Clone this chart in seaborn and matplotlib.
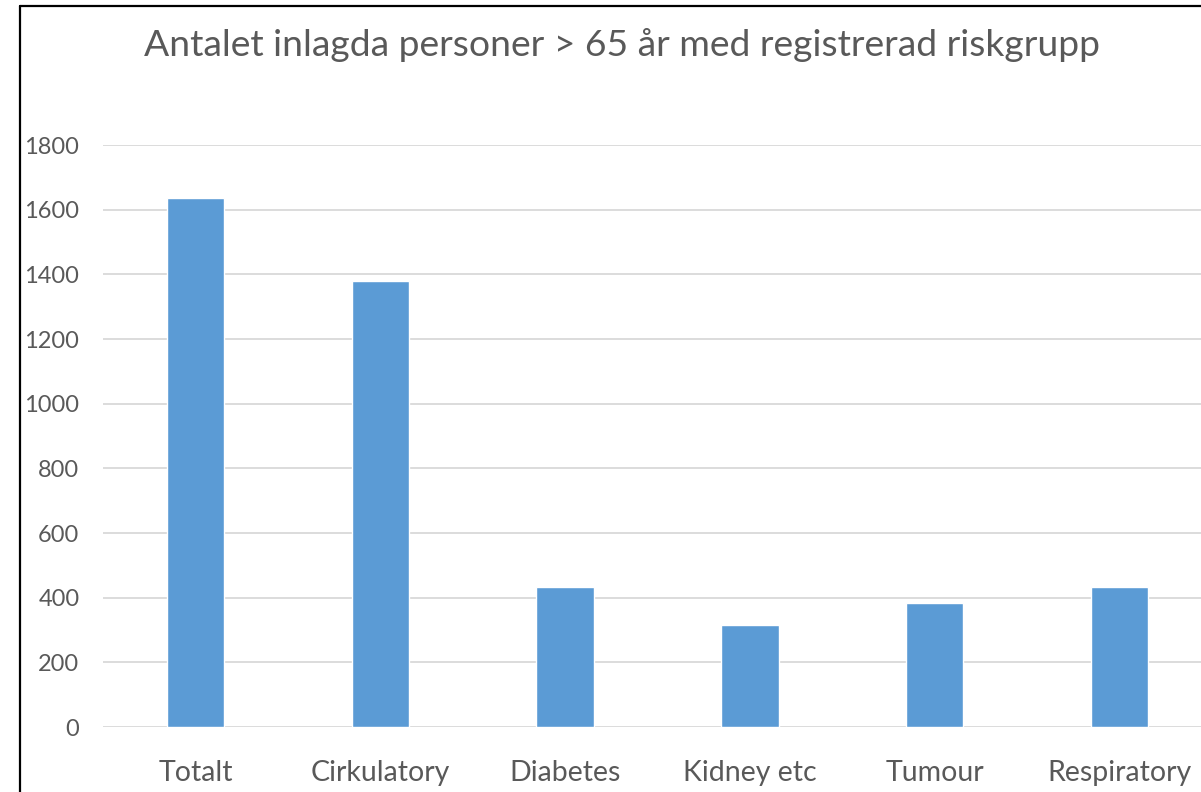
import matplotlib
matplotlib.use("Agg")
import matplotlib.pyplot as plt
from matplotlib.lines import Line2D
import seaborn as sns
import pandas as pd

categories = ["Totalt", "Cirkulatory", "Diabetes", "Kidney etc", "Tumour", "Respiratory"]
values = [1635, 1380, 432, 316, 385, 432]
y_ticks = [0, 200, 400, 600, 800, 1000, 1200, 1400, 1600, 1800]
title = "Antalet inlagda personer > 65 år med registrerad riskgrupp"

sns.set_style("white")
plt.rcParams["font.family"] = ["Lato", "DejaVu Sans"]

df = pd.DataFrame({"group": categories, "count": values})

fig = plt.figure(figsize=(12.01, 7.92), dpi=100)
# axes runs past the right edge, as in the cropped reference
ax = fig.add_axes([103 / 1201, 1 - 727 / 792, 1109 / 1201, (727 - 145) / 792])

sns.barplot(data=df, x="group", y="count", color="#5b9bd5", saturation=1,
            width=0.31, ax=ax, zorder=3)

ax.set_ylim(0, 1800)
ax.set_xlim(-0.5, len(categories) - 0.5)
ax.set_yticks(y_ticks)
ax.yaxis.grid(True, color="#d9d9d9", linewidth=1.3, zorder=0)
ax.set_axisbelow(True)
for s in ax.spines.values():
    s.set_visible(False)
ax.tick_params(axis="y", length=0, pad=17, labelsize=17, labelcolor="#595959")
ax.tick_params(axis="x", length=0, pad=24, labelsize=20.5, labelcolor="#595959")
ax.set_xlabel("")
ax.set_ylabel("")

fig.text(622 / 1201, 1 - 45 / 792, title, ha="center", va="center",
         fontsize=26.8, color="#595959")

# frame edges visible in the crop
fig.add_artist(Line2D([20 / 1201, 20 / 1201], [0, 1 - 6 / 792], color="black", linewidth=1.6))
fig.add_artist(Line2D([20 / 1201, 1], [1 - 6 / 792, 1 - 6 / 792], color="black", linewidth=1.6))

fig.savefig("out.png", dpi=100)
